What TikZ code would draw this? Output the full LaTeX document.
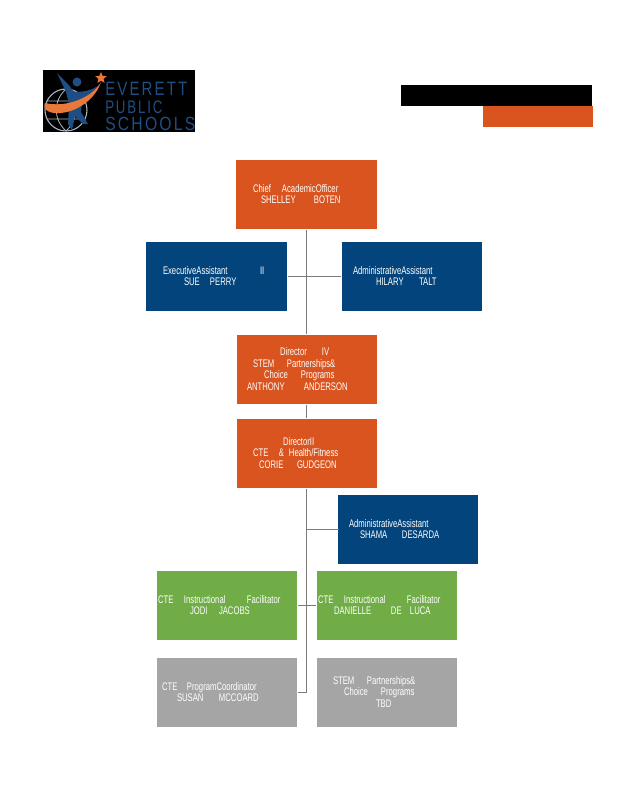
\documentclass[tikz,border=0pt]{standalone}
\usepackage{graphicx}
\usepackage{fontspec}
\setmainfont{Liberation Sans}
\newfontfamily\chartfont[FakeStretch=0.70]{Liberation Sans}
\newfontfamily\logofont[LetterSpace=14]{Liberation Sans}
\usetikzlibrary{shapes.geometric}
\definecolor{orangebox}{HTML}{D9541E}
\definecolor{bluebox}{HTML}{03447C}
\definecolor{greenbox}{HTML}{70AD47}
\definecolor{graybox}{HTML}{A5A5A5}
\definecolor{linkgray}{HTML}{7F7A7A}
\definecolor{logoblue}{HTML}{1F4E85}
\definecolor{logoorange}{HTML}{E8793A}
\definecolor{globegray}{HTML}{A9B8C8}
\newdimen\pxu \pxu=0.75pt
\newcommand\tl[2]{\leavevmode\rlap{\hspace*{#1\pxu}\raisebox{0.75pt}{#2}}}
\tikzset{
  chartbox/.style={minimum width=105pt,minimum height=51.75pt,inner sep=0pt,text width=105pt,
    align=left,text=white,font=\chartfont\fontsize{8.25}{8.6}\selectfont},
  orangeb/.style={chartbox,fill=orangebox},
  blueb/.style={chartbox,fill=bluebox},
  greenb/.style={chartbox,fill=greenbox},
  grayb/.style={chartbox,fill=graybox},
  widebox/.style={minimum width=105.75pt,text width=105.75pt},
  link/.style={draw=linkgray,line width=0.95pt},
  logotext/.style={text=logoblue,inner sep=0pt,anchor=west,font=\logofont},
}
\begin{document}
\begin{tikzpicture}[x=0.75pt,y=-0.75pt]
\useasboundingbox (0,0) rectangle (618,800);
% header
\fill[black] (43,70) rectangle (195,132);
\draw[globegray,line width=0.8pt] (66,110) circle (21);
\draw[globegray,line width=0.6pt] (66,89) .. controls (53,101) and (53,119) .. (66,131)
  (66,89) .. controls (79,101) and (79,119) .. (66,131) (47,101) -- (85,101) (47,119) -- (85,119);
\fill[logoblue] (57,73) -- (68,84) -- (74,92) .. controls (84,92) and (92,90) .. (98,86)
  -- (97,90) .. controls (92,96) and (86,100) .. (82,102) -- (81,112) -- (88,124) -- (83,124) -- (75,116) -- (72,130) -- (68,124) -- (69,104) -- (66,92) -- cycle;
\fill[logoblue] (77,82) circle (4.5);
\fill[logoorange] (101,82) .. controls (92,98) and (66,108) .. (45,103)
  .. controls (42,110) and (50,114) .. (60,113) .. controls (78,112) and (96,98) .. (101,82) -- cycle;
\node[star,star points=5,star point ratio=2.2,fill=logoorange,inner sep=0pt,minimum size=9pt] (logostar) at (101,78) {};
\node[logotext] (logoa) at (105,88.5) {\resizebox{61.5pt}{10pt}{EVERETT}};
\node[logotext] (logob) at (105,107) {\resizebox{43pt}{9.5pt}{PUBLIC}};
\node[logotext] (logoc) at (105,123.5) {\resizebox{67.5pt}{10pt}{SCHOOLS}};
\fill[black] (401,85) rectangle (592,106);
\fill[orangebox] (483,106) rectangle (593,127);
% boxes
\node[orangeb,widebox] (chief) at (306.5,194.5) {\tl{17}{Chief}\tl{46}{AcademicOfficer}\\\tl{25}{SHELLEY}\tl{78}{BOTEN}};
\node[blueb,widebox] (exec) at (216.5,276.5) {\tl{17}{ExecutiveAssistant}\tl{114}{II}\\\tl{38}{SUE}\tl{64}{PERRY}};
\node[blueb] (adm) at (412,276.5) {\tl{11}{AdministrativeAssistant}\\\tl{34}{HILARY}\tl{77}{TALT}};
\node[orangeb] (dirfour) at (307,369.5) {\tl{43}{Director}\tl{85}{IV}\\\tl{16}{STEM}\tl{50}{Partnerships\&}\\\tl{27}{Choice}\tl{64}{Programs}\\\tl{10}{ANTHONY}\tl{67}{ANDERSON}};
\node[orangeb] (dirtwo) at (307,453.5) {\tl{46}{DirectorII}\\\tl{16}{CTE}\tl{42}{\&}\tl{52}{Health/Fitness}\\\tl{22}{CORIE}\tl{60}{GUDGEON}};
\node[blueb] (admtwo) at (408,529.5) {\tl{11}{AdministrativeAssistant}\\\tl{22}{SHAMA}\tl{64}{DESARDA}};
\node[greenb] (jodi) at (227,605.5) {\tl{1}{CTE}\tl{27}{Instructional}\tl{90}{Facilitator}\\\tl{33}{JODI}\tl{62}{JACOBS}};
\node[greenb] (dani) at (387,605.5) {\tl{1}{CTE}\tl{27}{Instructional}\tl{90}{Facilitator}\\\tl{17}{DANIELLE}\tl{74}{DE}\tl{93}{LUCA}};
\node[grayb] (susan) at (227,692.5) {\tl{5}{CTE}\tl{30}{ProgramCoordinator}\\\tl{20}{SUSAN}\tl{62}{MCCOARD}};
\node[grayb] (tbd) at (387,692.5) {\tl{16}{STEM}\tl{50}{Partnerships\&}\\\tl{27}{Choice}\tl{64}{Programs}\\\tl{59}{TBD}};
% connectors
\coordinate (top) at ([yshift=-0.75pt]chief.south);
\coordinate (jadm) at (top |- admtwo.west);
\coordinate (jbot) at (top |- susan.east);
\draw[link] (top) -- ([yshift=0.75pt]dirfour.north -| top);
\draw[link] ([xshift=0.75pt]exec.east) -- ([xshift=-0.75pt]adm.west);
\draw[link] ([yshift=-0.75pt]dirfour.south -| top) -- ([yshift=0.75pt]dirtwo.north -| top);
\draw[link] ([yshift=-0.75pt]dirtwo.south -| top) -- (jbot);
\draw[link] (jadm) -- ([xshift=0.75pt]admtwo.west);
\draw[link] ([xshift=0.75pt]jodi.east) -- ([xshift=-0.75pt]dani.west);
\draw[link] ([xshift=0.75pt]susan.east) -- (jbot);
\end{tikzpicture}
\end{document}
